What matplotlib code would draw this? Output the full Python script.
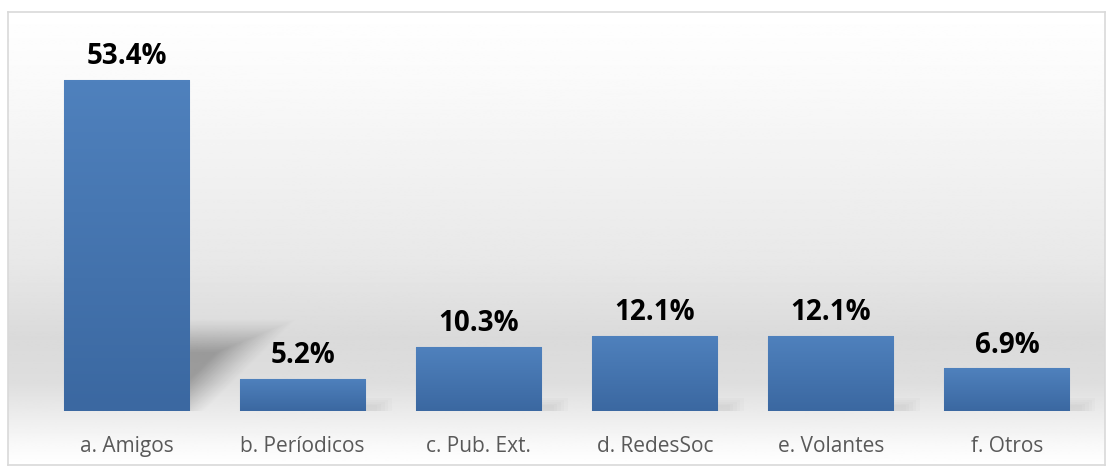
import numpy as np
import matplotlib.pyplot as plt
from matplotlib.patches import Rectangle
from matplotlib.colors import LinearSegmentedColormap

categories = ['a. Amigos', 'b. Períodicos', 'c. Pub. Ext.', 'd. RedesSoc', 'e. Volantes', 'f. Otros']
values = [53.4, 5.2, 10.3, 12.1, 12.1, 6.9]
labels = ['53.4%', '5.2%', '10.3%', '12.1%', '12.1%', '6.9%']

W, H = 1113, 469
fig = plt.figure(figsize=(W / 100, H / 100), dpi=100)
fig.patch.set_facecolor('white')

# fondo con degradado (blanco arriba, gris cerca de la base, blanco abajo)
bx0, by0, bx1, by1 = 8, 12, 1105, 465
bg = fig.add_axes([bx0 / W, 1 - by1 / H, (bx1 - bx0) / W, (by1 - by0) / H])
t = np.linspace(0, 1, 400)
prof = np.interp(t, [0, 0.15, 0.55, 0.72, 0.82, 0.95, 1.0],
                 [255, 250, 232, 218, 222, 248, 255]) / 255.0
img = np.repeat(prof[:, None], 2, axis=1)
bg.imshow(img, cmap='gray', vmin=0, vmax=1, aspect='auto', extent=[0, 1, 0, 1])
bg.set_xticks([])
bg.set_yticks([])
for s in bg.spines.values():
    s.set_color('#d9d9d9')
    s.set_linewidth(1.2)

# ejes principales
ax = fig.add_axes([38.5 / W, 1 - 411 / H, (1095 - 38.5) / W, (411 - 39) / H])
ax.patch.set_alpha(0)
x = np.arange(len(categories))
hw = 0.355
px_x = 176.0   # px por categoría
px_y = 6.2     # px por punto porcentual

# sombra difusa del primer bar (triángulo en px)
u = np.linspace(0, 120, 240)
yy = np.linspace(0, 110, 220)
U, Y = np.meshgrid(u, yy)
d_diag = (Y - U) / np.sqrt(2)
d_top = 80 - Y
d = np.minimum(d_diag, d_top)
alpha = np.clip((d + 12) / 34, 0, 1) ** 1.2 * 0.3
rgba = np.zeros(U.shape + (4,))
rgba[..., 3] = alpha
ax.imshow(rgba, origin='lower', aspect='auto', zorder=1, interpolation='bilinear',
          extent=[x[0] + hw, x[0] + hw + 120 / px_x, 0, 110 / px_y])

# sombras suaves de los demás
for xi, v in zip(x[1:], values[1:]):
    for k in range(5):
        ax.add_patch(Rectangle((xi - hw + 0.03, -0.3), 2 * hw + 0.04 + 0.02 * k, 1.2 + 0.3 * k,
                               facecolor='#a0a0a0', edgecolor='none', alpha=0.05, zorder=1))

bars = ax.bar(x, values, width=2 * hw, color='#4a7ab5', edgecolor='#7fa3d0',
              linewidth=0.8, zorder=2)

grad = LinearSegmentedColormap.from_list('g', ['#3b68a1', '#4f81bd'])
gimg = np.linspace(0, 1, 100)[:, None]
for b in bars:
    im = ax.imshow(gimg, cmap=grad, aspect='auto', origin='lower',
                   extent=[b.get_x(), b.get_x() + b.get_width(), 0, b.get_height()],
                   zorder=2.5)
    im.set_clip_path(b)
ax.set_xlim(-0.5, len(categories) - 0.5)
ax.set_ylim(0, 60)

for xi, v, lab in zip(x, values, labels):
    ax.text(xi, v + 1.4, lab, ha='center', va='bottom', fontsize=20,
            fontweight='bold', family='Open Sans', color='black', zorder=4)

ax.set_xticks(x)
ax.set_xticklabels(categories, fontsize=15, family='Open Sans', color='#595959')
ax.tick_params(axis='x', length=0, pad=18)
ax.set_yticks([])
for s in ax.spines.values():
    s.set_visible(False)

fig.savefig('out.png', dpi=100)
